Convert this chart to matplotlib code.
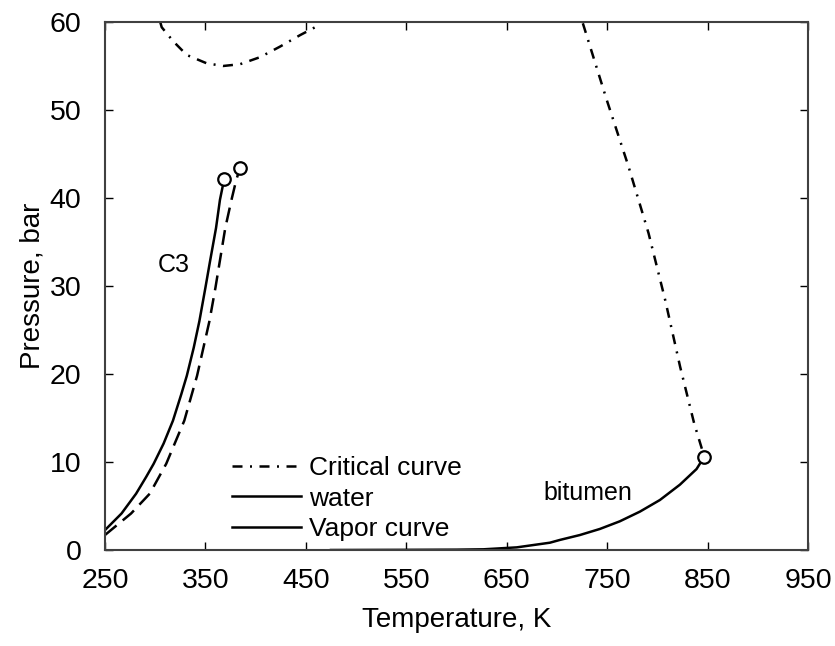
import matplotlib
matplotlib.use('Agg')
import matplotlib.pyplot as plt

plt.rcParams['font.family'] = ['Liberation Sans', 'DejaVu Sans']

# propane vapour pressure curve (solid) and its shifted companion (dashed)
c3_T = [250, 266.5, 281, 291, 298.5, 308.4, 317.7, 326, 331.5, 338.4, 344, 350,
        354.6, 360.6, 364.5, 368.8]
c3_P = [2.26, 4.15, 6.4, 8.3, 9.8, 12.1, 14.7, 17.7, 19.8, 23.0, 26.0, 29.8,
        32.8, 36.6, 39.8, 42.2]

c3b_T = [250, 276, 294.6, 311, 329, 341.7, 354, 360, 369.8, 376, 380.4, 384.3]
c3b_P = [1.7, 4.15, 6.4, 9.8, 14.7, 19.8, 26.0, 29.8, 36.6, 39.8, 41.9, 43.4]

# bitumen vapour pressure curve
bit_T = [475, 550, 600, 627, 660, 693, 702.8, 722.8, 742.7, 762.6, 782.6,
         802.5, 822.4, 839, 846.7]
bit_P = [0.0, 0.02, 0.04, 0.08, 0.3, 0.83, 1.14, 1.70, 2.39, 3.26, 4.36,
         5.68, 7.42, 9.2, 10.6]

# critical curve, two branches
crit1_T = [305, 306.5, 318, 331.4, 351.3, 367.8, 384.5, 404.4, 424.3, 444.2, 460.9, 463]
crit1_P = [60, 59.4, 57.8, 56.25, 55.3, 55.0, 55.2, 56.0, 57.2, 58.5, 59.5, 60]

crit2_T = [725.8, 749.7, 771.2, 791.2, 807.8, 822.7, 836.6, 846.7]
crit2_P = [59.85, 51.1, 43.6, 36.0, 28.4, 20.8, 14.4, 10.6]

# critical points
cp_T = [368.8, 384.3, 846.7]
cp_P = [42.2, 43.4, 10.6]

fig = plt.figure(figsize=(8.35, 6.46), dpi=100)
ax = fig.add_axes([0.1257, 0.1486, 0.842, 0.8174])

lw = 1.8
dashdot = (0, (4, 3, 0.8, 3))

ax.plot(crit1_T, crit1_P, color='black', lw=lw, ls=dashdot, label='Critical curve')
ax.plot(crit2_T, crit2_P, color='black', lw=lw, ls=dashdot)
ax.plot(c3_T, c3_P, color='black', lw=lw, label='water')
ax.plot(bit_T, bit_P, color='black', lw=lw, label='Vapor curve')
ax.plot(c3b_T, c3b_P, color='black', lw=lw, ls=(0, (6, 3.2)))
ax.plot(cp_T, cp_P, ls='none', marker='o', ms=9, mfc='white', mec='black',
        mew=1.6, zorder=5)

ax.text(318.7, 32.4, 'C3', fontsize=18, ha='center', va='center')
ax.text(731, 6.5, 'bitumen', fontsize=18, ha='center', va='center')

ax.set_xlim(250, 950)
ax.set_ylim(0, 60)
ax.set_xticks(range(250, 951, 100))
ax.set_yticks(range(0, 61, 10))
ax.tick_params(direction='in', length=6, width=1, top=True, right=True,
               labelsize=20.5)
ax.tick_params(axis='x', pad=13)
ax.tick_params(axis='y', pad=17)
for s in ax.spines.values():
    s.set_linewidth(1.5)
    s.set_color('#404040')

ax.set_xlabel('Temperature, K', fontsize=20, labelpad=9)
ax.set_ylabel('Pressure, bar', fontsize=20, labelpad=3)

ax.legend(loc='upper left', bbox_to_anchor=(0.181, 0.178), frameon=False,
          fontsize=19, handlelength=2.6, handletextpad=0.3, borderpad=0,
          borderaxespad=0, labelspacing=0.25)

fig.savefig('out.png', dpi=100)
